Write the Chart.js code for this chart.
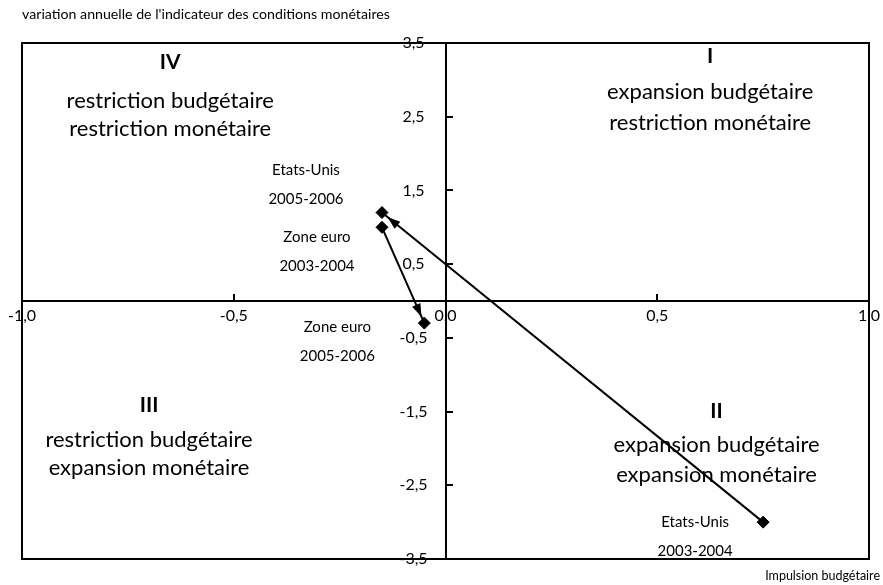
<!DOCTYPE html>
<html><head><meta charset="utf-8">
<script src="https://cdn.jsdelivr.net/npm/chart.js@4/dist/chart.umd.min.js"></script>
<style>html,body{margin:0;padding:0;background:#fff}#wrap{width:883px;height:585px;position:relative}</style>
</head><body><div id="wrap"><canvas id="c"></canvas></div>
<script>
// ---- data ----
const periods = ['2003-2004', '2005-2006'];
const seriesNames = ['Etats-Unis', 'Zone euro'];
const usX = [0.75, -0.15];
const usY = [-3.0, 1.2];
const euX = [-0.15, -0.05];
const euY = [1.0, -0.3];
const xTicks = [-1.0, -0.5, 0.0, 0.5, 1.0];
const yTicks = [-3.5, -2.5, -1.5, -0.5, 0.5, 1.5, 2.5, 3.5];
const yTitle = "variation annuelle de l'indicateur des conditions monétaires";
const xTitle = 'Impulsion budgétaire';
const quadNumerals = ['I', 'II', 'III', 'IV'];
const quadLines = [
  ['expansion budgétaire', 'restriction monétaire'],
  ['expansion budgétaire', 'expansion monétaire'],
  ['restriction budgétaire', 'expansion monétaire'],
  ['restriction budgétaire', 'restriction monétaire']
];

const FONT = 'Lato, "DejaVu Sans", sans-serif';
const fmt = v => v.toFixed(1).replace('.', ',');
const toPts = (xs, ys) => xs.map((x, i) => ({x: x, y: ys[i]}));

// quadrant text anchors (data coords of numeral centre) and line gaps in px
const quadAnchor = [
  {x: 0.625, y: 3.32, g1: 36, g2: 31},
  {x: 0.64, y: -1.49, g1: 34, g2: 30},
  {x: -0.70, y: -1.42, g1: 34, g2: 28},
  {x: -0.65, y: 3.24, g1: 39, g2: 28}
];
// point-label offsets in px: [dataset][pointIndex]
const labelOffsets = [
  [{dx: -68, dy: 0}, {dx: -76, dy: -42}],
  [{dx: -65, dy: 10}, {dx: -87, dy: 4}]
];

const decor = {
  id: 'decor',
  afterDatasetsDraw(chart) {
    const ctx = chart.ctx, a = chart.chartArea;
    const xs = chart.scales.x, ys = chart.scales.y;
    ctx.save();
    // frame
    ctx.strokeStyle = '#000'; ctx.lineWidth = 2;
    ctx.strokeRect(a.left, a.top, a.right - a.left, a.bottom - a.top);
    // y tick labels (centred left of the vertical axis)
    const ax = xs.getPixelForValue(0);
    ctx.font = '16px ' + FONT; ctx.fillStyle = '#000';
    ctx.textAlign = 'center'; ctx.textBaseline = 'middle';
    ys.ticks.forEach(t => {
      ctx.fillText(fmt(t.value), ax - 32, ys.getPixelForValue(t.value));
    });
    // arrowheads
    chart.data.datasets.forEach((ds, di) => {
      const pts = chart.getDatasetMeta(di).data;
      for (let i = 1; i < pts.length; i++) {
        const p0 = pts[i - 1], p1 = pts[i];
        const ang = Math.atan2(p1.y - p0.y, p1.x - p0.x);
        const back = 7, len = 13, hw = 4.5;
        const tx = p1.x - Math.cos(ang) * back, ty = p1.y - Math.sin(ang) * back;
        const bx = tx - Math.cos(ang) * len, by = ty - Math.sin(ang) * len;
        ctx.beginPath();
        ctx.moveTo(tx, ty);
        ctx.lineTo(bx + Math.sin(ang) * hw, by - Math.cos(ang) * hw);
        ctx.lineTo(bx - Math.sin(ang) * hw, by + Math.cos(ang) * hw);
        ctx.closePath();
        ctx.fillStyle = '#000'; ctx.fill();
      }
      // point labels
      ctx.font = '15px ' + FONT; ctx.fillStyle = '#000';
      ctx.textAlign = 'center'; ctx.textBaseline = 'middle';
      pts.forEach((p, i) => {
        const o = labelOffsets[di][i];
        ctx.fillText(seriesNames[di], p.x + o.dx, p.y + o.dy);
        ctx.fillText(periods[i], p.x + o.dx, p.y + o.dy + 29);
      });
    });
    // quadrant texts
    quadAnchor.forEach((q, i) => {
      const cx = xs.getPixelForValue(q.x), cy = ys.getPixelForValue(q.y);
      ctx.textAlign = 'center'; ctx.textBaseline = 'middle';
      ctx.font = 'bold 21px ' + FONT;
      ctx.fillText(quadNumerals[i], cx, cy);
      ctx.font = '22px ' + FONT;
      ctx.fillText(quadLines[i][0], cx, cy + q.g1);
      ctx.fillText(quadLines[i][1], cx, cy + q.g1 + q.g2);
    });
    // axis titles
    ctx.font = '14.2px ' + FONT;
    ctx.textAlign = 'left'; ctx.textBaseline = 'middle';
    ctx.fillText(yTitle, 22, 14);
    ctx.font = '12.5px ' + FONT;
    ctx.textAlign = 'right';
    ctx.fillText(xTitle, 880, 576);
    ctx.restore();
  }
};

const ds = (name, xs, ys) => ({
  label: name,
  data: toPts(xs, ys),
  showLine: true,
  borderColor: '#000',
  backgroundColor: '#000',
  borderWidth: 2,
  pointStyle: 'rectRot',
  pointRadius: 6,
  pointHoverRadius: 6,
  pointBackgroundColor: '#000',
  pointBorderColor: '#000',
  pointBorderWidth: 1
});

new Chart(document.getElementById('c'), {
  type: 'scatter',
  data: {
    datasets: [ds(seriesNames[0], usX, usY), ds(seriesNames[1], euX, euY)]
  },
  options: {
    responsive: true,
    maintainAspectRatio: false,
    animation: false,
    layout: {padding: {left: 22, right: 14, top: 43, bottom: 26}},
    plugins: {legend: {display: false}, tooltip: {enabled: false}, title: {display: false}},
    scales: {
      x: {
        type: 'linear', min: -1, max: 1,
        position: {y: 0},
        afterBuildTicks: s => { s.ticks = xTicks.map(v => ({value: v})); },
        afterFit: s => { s.paddingLeft = 0; s.paddingRight = 0; s.paddingTop = 0; s.paddingBottom = 0; },
        ticks: {callback: v => fmt(v), color: '#000', font: {family: FONT, size: 16}, padding: 13, maxRotation: 0, autoSkip: false},
        grid: {display: true, drawOnChartArea: false, drawTicks: true, tickLength: -8, color: '#000', lineWidth: 2},
        border: {display: true, color: '#000', width: 2}
      },
      y: {
        type: 'linear', min: -3.5, max: 3.5,
        position: {x: 0},
        afterBuildTicks: s => { s.ticks = yTicks.map(v => ({value: v})); },
        afterFit: s => { s.paddingLeft = 0; s.paddingRight = 0; s.paddingTop = 0; s.paddingBottom = 0; },
        ticks: {display: false, callback: v => fmt(v), autoSkip: false},
        grid: {display: true, drawOnChartArea: false, drawTicks: true, tickLength: -8, color: '#000', lineWidth: 2},
        border: {display: true, color: '#000', width: 2}
      }
    }
  },
  plugins: [decor]
});
</script></body></html>
